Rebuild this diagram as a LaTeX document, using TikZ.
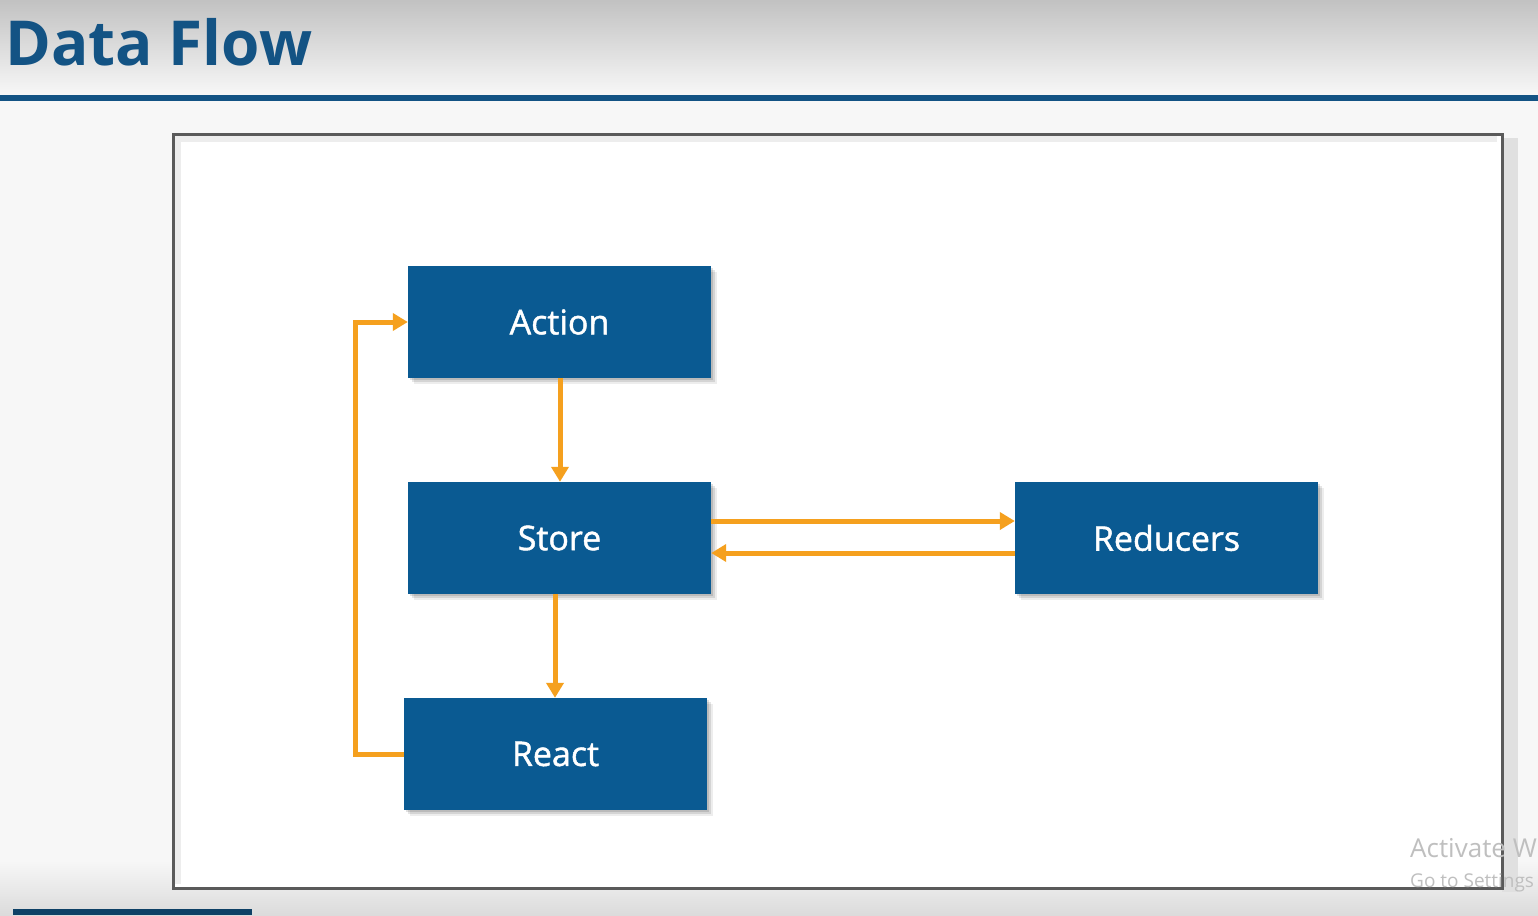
\documentclass[tikz,border=0pt]{standalone}
\usepackage{fontspec}
\setmainfont{Open Sans}
\newfontfamily\boxfont[FakeBold=1.3]{Open Sans}
\usetikzlibrary{shadows,arrows.meta}
\definecolor{boxblue}{HTML}{0A5A92}
\definecolor{titleblue}{HTML}{135384}
\definecolor{linkorange}{HTML}{F5A01E}
\definecolor{framegray}{HTML}{5A5A5A}
\definecolor{barblue}{HTML}{0E4166}
\tikzset{
  flowbox/.style={draw=none, fill=boxblue, minimum width=303pt, minimum height=112pt, inner sep=0pt,
    text=white, font=\boxfont\fontsize{34}{40}\selectfont,
    drop shadow={shadow xshift=6pt, shadow yshift=-6pt, fill=black, opacity=0.07},
    drop shadow={shadow xshift=4pt, shadow yshift=-4pt, fill=black, opacity=0.10},
    drop shadow={shadow xshift=2pt, shadow yshift=-2pt, fill=black, opacity=0.12}},
  flowlink/.style={draw=linkorange, line width=5pt, -{Triangle[length=15pt,width=17pt]}},
  watermark/.style={text=black!25, anchor=base west, inner sep=0pt}
}
\begin{document}
\begin{tikzpicture}[x=1pt,y=-1pt]
\useasboundingbox (0,0) rectangle (1538,915);
\clip (0,0) rectangle (1538,915);
% backgrounds
\fill[white!97!black] (0,0) rectangle (1538,915);
\shade[top color=black!24, bottom color=white!97!black] (0,0) rectangle (1538,95);
\shade[top color=white!97!black, bottom color=black!14] (0,860) rectangle (1538,915);
\fill[titleblue] (0,95.5) rectangle (1538,101);
\fill[barblue] (13,909) rectangle (252,915);
% title
\node[anchor=base west, inner sep=0pt, text=titleblue, font=\fontsize{62}{68}\selectfont\bfseries] (title) at (5,66) {Data Flow};
% frame with shadow
\fill[black!12] (1502,138) rectangle (1518,892);
\fill[white] (173,134) rectangle (1502,888);
\draw[black!7, line width=6pt] (178,884) -- (178,139) -- (1497,139);
\draw[framegray, line width=3pt] (173,134) rectangle (1502,888);
% boxes
\node[flowbox] (action) at (559.5,322) {Action};
\node[flowbox] (store) at (559.5,538) {Store};
\node[flowbox] (react) at (555.5,754) {React};
\node[flowbox] (reducers) at (1166.5,538) {Reducers};
% connectors
\draw[flowlink] (action.south -| 560,0) -- (store.north -| 560,0);
\draw[flowlink] (store.south -| 555,0) -- (react.north -| 555,0);
\draw[flowlink] (store.east |- 0,521) -- (reducers.west |- 0,521);
\draw[flowlink] (reducers.west |- 0,553) -- (store.east |- 0,553);
\draw[flowlink, line join=miter] (react.west) -- (355,754) -- (355,322) -- (action.west);
% watermark
\node[watermark, font=\fontsize{26}{30}\selectfont] (wm1) at (1410,857) {Activate Windows};
\node[watermark, font=\fontsize{19}{22}\selectfont] (wm2) at (1410,887) {Go to Settings to activate Windows.};
\end{tikzpicture}
\end{document}
